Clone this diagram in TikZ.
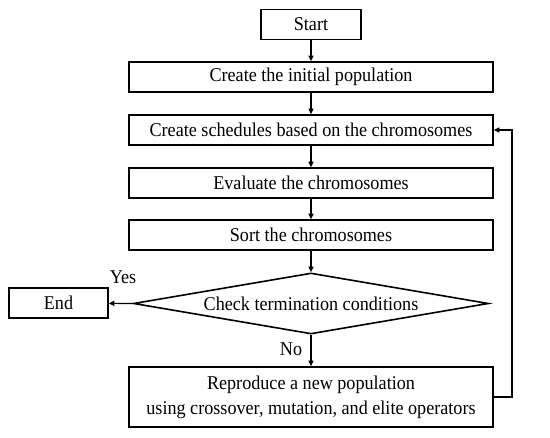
\documentclass[tikz,border=0pt]{standalone}
\usepackage{fontspec}
\setmainfont[FakeStretch=0.93]{Liberation Serif}
\usetikzlibrary{shapes.geometric,arrows.meta}
\tikzset{
  stepbox/.style={draw,line width=1.6pt,inner sep=0pt,minimum height=30pt,
    font=\fontsize{19.5}{25}\selectfont,align=center},
  widebox/.style={stepbox,minimum width=364pt},
  checkbox/.style={draw,line width=1.6pt,diamond,inner sep=0pt,aspect=5.8,
    minimum width=355pt,minimum height=61pt,font=\fontsize{19.5}{25}\selectfont},
  flow/.style={line width=1.2pt,-{Triangle[length=5.5pt,width=5pt]}},
  lbl/.style={font=\fontsize{19.5}{22}\selectfont}
}
\begin{document}
\begin{tikzpicture}[x=1pt,y=-1pt]
\useasboundingbox (0,0) rectangle (550,438);
\node[stepbox,minimum width=100pt] (start) at (311,24.5) {Start};
\node[widebox] (init) at (311,77) {Create the initial population};
\node[widebox] (sched) at (311,130) {Create schedules based on the chromosomes};
\node[widebox] (eval) at (311,183) {Evaluate the chromosomes};
\node[widebox] (sort) at (311,235) {Sort the chromosomes};
\node[checkbox] (check) at (311,303.5) {Check termination conditions};
\node[stepbox,minimum width=99pt] (end) at (58.5,303) {End};
\node[widebox,minimum height=60pt] (repro) at (311,397) {Reproduce a new population\\using crossover, mutation, and elite operators};
\coordinate (back) at (512,397);
\draw[flow] (start) -- (init);
\draw[flow] (init) -- (sched);
\draw[flow] (sched) -- (eval);
\draw[flow] (eval) -- (sort);
\draw[flow] (sort) -- (check.north);
\draw[flow] (check.west) -- (end);
\draw[flow] (check.south) -- (repro);
\draw[flow] (repro.east) -- (back) |- (sched.east);
\node[lbl] (yes) at (123,277) {Yes};
\node[lbl] (no) at (291,349) {No};
\end{tikzpicture}
\end{document}
